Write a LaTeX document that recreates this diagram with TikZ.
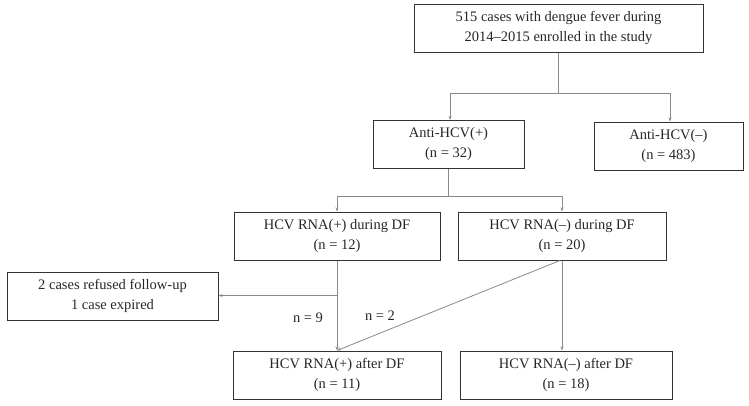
\documentclass[tikz,border=0pt]{standalone}
\usepackage{fontspec}
\setmainfont{Liberation Serif}
\usetikzlibrary{arrows.meta,calc}
\definecolor{boxline}{HTML}{333333}
\definecolor{conn}{HTML}{8A8A8A}
\begin{document}
\begin{tikzpicture}[x=1pt,y=-1pt,
  box/.style={draw=boxline,line width=1pt,minimum height=48pt,align=center,inner sep=0pt,
    font=\fontsize{14.5}{20}\selectfont,text=black!85},
  conn/.style={draw=conn,line width=0.8pt},
  arr/.style={conn,-{Stealth[length=4pt,width=3pt]}},
  lbl/.style={font=\fontsize{14.5}{20}\selectfont,text=black!85,inner sep=0pt}]
\useasboundingbox (0,0) rectangle (749,405);
\node[box,minimum width=289pt] (top) at (558.5,28) {515 cases with dengue fever during\\2014--2015 enrolled in the study};
\node[box,minimum width=151pt] (ap) at (448.5,144.5) {Anti-HCV(+)\\(n = 32)};
\node[box,minimum width=149pt] (an) at (668.5,146) {Anti-HCV(--)\\(n = 483)};
\node[box,minimum width=206pt] (rp) at (337,236) {HCV RNA(+) during DF\\(n = 12)};
\node[box,minimum width=208pt] (rn) at (562,236) {HCV RNA(--) during DF\\(n = 20)};
\node[box,minimum width=211pt] (lb) at (112.5,296) {2 cases refused follow-up\\1 case expired};
\node[box,minimum width=208pt] (bp) at (337,375) {HCV RNA(+) after DF\\(n = 11)};
\node[box,minimum width=212pt] (bn) at (566,375) {HCV RNA(--) after DF\\(n = 18)};
\coordinate (j1) at ($(top.south)+(0,41)$);
\coordinate (j2) at ($(ap.south)+(0,27)$);
\coordinate (j3) at ($(rp.south)+(0,35)$);
\draw[conn] (top.south) -- (j1);
\draw[arr] (j1) -| ($(ap.north)+(1.5,0)$);
\draw[arr] (j1) -| ($(an.north)+(1.5,0)$);
\draw[conn] (ap.south) -- (j2);
\draw[arr] (j2) -| (rp.north);
\draw[arr] (j2) -| (rn.north);
\draw[arr] (rp.south) -- (bp.north);
\draw[arr] (j3) -- (j3 -| lb.east);
\draw[arr] ($(rn.south)+(-2,0)$) -- (bp.north);
\draw[arr] (rn.south) -- (rn.south |- bn.north);
\node[lbl] (n9) at (308,318) {n = 9};
\node[lbl] (n2) at (380,316) {n = 2};
\end{tikzpicture}
\end{document}
